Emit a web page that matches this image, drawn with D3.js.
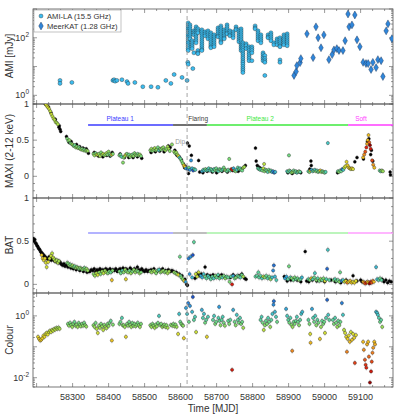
<!DOCTYPE html>
<html><head><meta charset="utf-8">
<script src="https://cdn.jsdelivr.net/npm/d3@7"></script>
<style>body{margin:0;background:#fff}svg{display:block;font-family:"Liberation Sans",Arial,sans-serif}</style>
</head><body><svg id="c" width="399" height="419"></svg>
<script>
// ---------------- DATA ----------------
const xTickLabels = [58300,58400,58500,58600,58700,58800,58900,59000,59100];
const dipMJD = 58618;
const phaseNames = ["Plateau 1","Flaring","Plateau 2","Soft"];
const phaseStart = [58343,58579,58673,59065];
const phaseEnd   = [58579,58673,59065,59190];
const phaseLabelMJD = [58432,58621,58821,59101];

// AMI-LA 15.5 GHz (mJy)
const amiSparse = [[58265,3.3],[58265,2.6],[58298,2.8],[58412,3.3],[58415,3.5],[58418,3.1],[58423,3.3],[58437,3.5],
 [58451,3.0],[58454,2.6],[58473,2.8],[58495,2.0],[58518,2.0],[58537,1.9],[58559,3.3],[58573,2.6],[58582,5.3],
 [58604,4.2],[58618,3.3],[58620,14],[58621,12],[58634,8.5]];
const amiClusters = [
 [58621,[329,281,240,204,174,149,127,108,92,79,67,57,49,42,36]],
 [58626,[281,240,204,174,149,127,108,92]],
 [58632,[79,67,57,49,42]],
 [58637,[174,149,127,30]],
 [58643,[240,204,174,149,127,108,92,79,67]],
 [58648,[204,174,149,36,30,28]],
 [58659,[189,161,137,117,100,85,73,62,53,45,39,36]],
 [58668,[161,137,117]],
 [58676,[174,149,127,108,92]],
 [58684,[149,127,108,92,79,67,57,49,45]],
 [58693,[127,108,92,79,67,57,49]],
 [58704,[221,189,161,137,117,108]],
 [58712,[259,221,189,161,137,117,100,85,73,67]],
 [58721,[189,161,137,117,100,92]],
 [58729,[281,240,204,174,149,137]],
 [58737,[174,149,127,117]],
 [58746,[161,137,117,100]],
 [58754,[240,204,189]],
 [58762,[189,161,137,117,100,85,73]],
 [58768,[204,174,149,127,108,92,79,67,57,49,42,36]],
 [58773,[67,57,49,42,36,30,26,22,19,16,14,12,10,8.5,7.3,6.2]],
 [58782,[62,53,42]],
 [58790,[49,42,36,30,26,22,19,16]],
 [58798,[49,42,36,30,16]],
 [58807,[259,221,204]],
 [58815,[174,149,127,108,92,79]],
 [58823,[127,108,92,79,67]],
 [58829,[30,26,22,19,16]],
 [58834,[24,19,16,14,4.9]],
 [58843,[127,108,100]],
 [58851,[149,127,108,92,79]],
 [58859,[67,57]],
 [58868,[92,79,67,57]],
 [58876,[100,85,73,62,53,49,17,14]],
 [58887,[127,108,92,79,67,57]],
 [58896,[137,117,100,85,73,62,53]]
];
// MeerKAT 1.28 GHz (mJy)
const meerkat = [[58915,4.9],[58921,6.7],[58923,10.8],[58932,13.7],[58934,18.9],[58951,137],[58968,20.4],[58976,240],
 [58982,100],[58990,45],[58998,126],[59012,17.4],[59021,26],[59026,38],[59034,42],[59040,36],[59051,36],[59057,79],
 [59065,670],[59068,240],[59076,280],[59084,620],[59090,85],[59098,49],[59107,14],[59115,12.7],[59121,12.7],
 [59129,7.9],[59134,14],[59143,9.2],[59148,17.4],[59157,16],[59162,4.5],[59171,174],[59176,304],[59187,93]];

// Hardness colour
const colourPts = [
 [58204,0.21],[58207,0.18],[58210,0.16],[58213,0.17],[58216,0.19],[58219,0.23],[58222,0.21],[58225,0.26],[58228,0.28],[58231,0.25],
 [58234,0.3],[58237,0.33],[58240,0.3],[58243,0.35],[58246,0.33],[58249,0.38],[58252,0.36],[58255,0.41],[58258,0.38],[58261,0.42],[58264,0.38],
 [58287,0.55],[58290,0.48],[58293,0.6],[58296,0.51],[58299,0.44],[58302,0.55],[58305,0.64],[58308,0.48],[58311,0.52],[58314,0.44],
 [58317,0.59],[58320,0.51],[58323,0.46],[58326,0.55],[58329,0.48],[58332,0.6],[58335,0.5],[58338,0.45],
 [58358,0.5],[58361,0.44],[58364,0.59],[58367,0.38],[58370,0.28],[58373,0.48],[58376,0.41],[58379,0.55],[58382,0.46],[58385,0.35],
 [58388,0.51],[58391,0.44],[58394,0.4],[58397,0.55],[58400,0.47],[58403,0.6],[58406,0.69],[58409,0.16],[58412,0.52],
 [58430,0.55],[58433,0.64],[58437,0.86],[58439,0.5],[58442,0.5],[58445,0.44],[58448,0.21],[58451,0.55],[58454,0.48],[58457,0.64],
 [58460,0.51],[58463,0.44],[58466,0.59],[58469,0.48],[58472,0.55],[58475,0.46],[58478,0.52],[58481,0.6],[58484,0.5],[58487,0.44],[58490,0.55],
 [58516,0.5],[58519,0.44],[58522,0.55],[58525,0.48],[58528,0.41],[58531,0.52],[58534,0.46],[58537,0.59],[58540,1.0],[58543,0.51],
 [58546,0.55],[58549,0.44],[58552,0.48],[58555,0.52],[58558,0.44],[58561,0.5],[58564,0.41],
 [58573,0.51],[58577,0.48],[58580,0.55],[58583,0.46],[58586,0.52],[58589,0.44],[58593,0.26],[58596,1.16],[58599,0.64],[58602,0.55],
 [58605,0.5],[58607,0.48],[58609,0.19],
 [58615,1.81],[58618,1.16],[58621,2.6],[58623,0.64],[58626,2.1],[58632,1.35],[58634,4.1],[58637,0.74],[58640,0.93],[58643,0.3],
 [58659,1.56],[58662,0.86],[58665,1.16],[58668,0.6],[58671,0.74],[58673,0.21],[58676,0.93],
 [58690,0.74],[58693,1.0],[58696,0.55],[58699,0.64],[58707,1.95],[58705,0.86],[58708,0.69],[58711,0.5],[58714,0.74],[58717,0.93],[58720,0.6],[58723,0.48],
 [58732,0.69],[58735,0.55],[58738,0.74],[58743,0.018],[58746,1.56],[58750,0.64],[58753,0.5],[58756,1.08],[58759,0.74],[58762,0.6],
 [58765,0.86],[58768,0.55],[58771,0.64],[58774,0.41],
 [58822,0.74],[58825,0.93],[58828,0.6],[58831,0.35],[58834,0.5],[58837,0.69],[58840,0.55],[58843,0.86],[58846,0.64],[58849,0.44],
 [58852,0.74],[58855,1.16],[58858,2.3],[58859,3.0],[58862,1.35],[58865,0.93],[58868,0.64],
 [58893,1.68],[58896,1.0],[58899,0.74],[58902,0.6],[58905,0.86],[58908,0.51],[58910,0.074],[58911,0.44],[58914,0.64],[58917,0.55],
 [58920,0.69],[58923,0.93],[58926,0.64],[58929,0.5],[58932,0.74],[58935,1.16],[58938,1.35],
 [58955,0.74],[58958,0.55],[58960,0.26],[58961,0.135],[58965,1.68],[58968,0.86],[58971,0.64],[58974,1.0],[58977,0.5],[58980,0.74],
 [58983,0.6],[58987,0.18],[58990,0.44],[58993,0.69],[58996,0.55],[58999,0.64],[59001,0.28],[59004,0.86],[59007,3.3],[59010,1.08],[59013,0.74],
 [59023,0.74],[59026,0.55],[59029,0.86],[59032,0.6],[59035,0.44],[59038,0.69],[59041,0.5],[59044,0.64],[59048,2.6],[59051,1.08],
 [59054,0.35],[59057,0.28],[59060,0.21],[59062,0.069],[59064,0.18],[59067,0.23],[59070,0.145],[59073,0.3],[59076,0.168],[59079,0.26],
 [59082,0.195],[59084,0.03],[59087,0.24],
 [59107,0.145],[59109,0.08],[59112,0.038],[59114,0.026],[59116,0.021],[59118,0.12],[59121,0.145],[59123,0.048],[59126,0.007],
 [59129,0.016],[59131,0.033],[59133,0.064],[59135,0.093],[59138,0.145],[59140,0.12],[59143,1.35],[59146,1.25],[59148,1.08],
 [59151,0.86],[59154,0.64],[59157,0.74],[59160,0.44]];

// MAXI 2-12 keV (with colour / without colour)
const maxiCol = [
 [58226,0.99],[58229,0.97],[58232,0.95],[58235,0.93],[58238,0.9],[58241,0.86],[58244,0.83],[58247,0.8],[58250,0.78],[58253,0.75],[58256,0.74],[58259,0.72],
 [58285,0.52],[58288,0.49],[58291,0.5],[58294,0.46],[58297,0.45],[58300,0.44],[58303,0.42],[58306,0.43],[58309,0.4],[58312,0.41],
 [58315,0.39],[58318,0.4],[58321,0.38],[58324,0.37],[58327,0.38],[58330,0.36],[58333,0.37],[58336,0.35],[58339,0.36],[58342,0.35],
 [58358,0.31],[58361,0.29],[58364,0.32],[58367,0.3],[58370,0.3],[58373,0.31],[58376,0.28],[58379,0.33],[58382,0.3],[58385,0.31],
 [58388,0.29],[58391,0.3],[58394,0.32],[58397,0.3],[58400,0.34],[58403,0.31],[58406,0.29],[58409,0.3],[58412,0.31],
 [58430,0.29],[58433,0.3],[58436,0.27],[58440,0.19],[58442,0.26],[58445,0.28],[58448,0.3],[58451,0.31],[58454,0.29],[58457,0.3],
 [58460,0.27],[58463,0.29],[58466,0.3],[58469,0.28],[58472,0.32],[58475,0.3],[58478,0.29],[58481,0.31],[58484,0.29],[58487,0.3],[58490,0.28],
 [58516,0.36],[58519,0.38],[58522,0.35],[58525,0.37],[58528,0.39],[58531,0.36],[58534,0.37],[58537,0.4],[58540,0.36],[58543,0.38],
 [58546,0.37],[58549,0.39],[58552,0.4],[58555,0.37],[58558,0.36],[58561,0.38],[58564,0.41],[58567,0.38],[58570,0.35],[58576,0.44],
 [58582,0.34],[58585,0.32],[58588,0.33],[58591,0.3],[58594,0.28],[58597,0.26],[58600,0.24],[58603,0.21],[58606,0.18],[58609,0.15],[58612,0.13],[58615,0.11],
 [58620,0.1],[58623,0.12],[58626,0.09],[58629,0.22],[58632,0.11],[58635,0.08],[58638,0.1],[58641,0.09],
 [58660,0.07],[58663,0.09],[58666,0.08],[58669,0.1],[58672,0.08],[58675,0.09],[58678,0.11],[58681,0.08],[58684,0.1],[58687,0.09],
 [58690,0.07],[58693,0.1],[58696,0.09],[58699,0.11],[58702,0.08],[58705,0.07],[58708,0.1],[58711,0.09],[58714,0.08],[58717,0.1],
 [58720,0.12],[58723,0.09],[58726,0.08],[58729,0.07],[58732,0.09],[58735,0.24],[58738,0.08],[58741,0.1],[58744,0.09],[58747,0.11],
 [58750,0.08],[58753,0.07],[58756,0.09],[58759,0.12],[58762,0.1],[58765,0.11],[58768,0.09],[58771,0.08],[58774,0.12],[58777,0.13],
 [58815,0.11],[58818,0.1],[58821,0.09],[58824,0.1],[58827,0.08],[58830,0.11],[58832,0.17],[58833,0.07],[58836,0.09],[58839,0.08],
 [58842,0.06],[58845,0.09],[58848,0.07],[58851,0.08],[58854,0.06],[58857,0.07],[58860,0.05],[58863,0.06],
 [58896,0.07],[58899,0.06],[58901,0.29],[58902,0.08],[58905,0.07],[58908,0.05],[58911,0.06],[58914,0.08],[58917,0.06],[58920,0.07],
 [58923,0.05],[58926,0.06],[58929,0.07],[58932,0.06],
 [58955,0.07],[58958,0.06],[58961,0.08],[58964,0.09],[58967,0.07],[58970,0.08],[58973,0.09],[58976,0.07],[58979,0.08],[58982,0.06],
 [58985,0.07],[58988,0.08],[58991,0.06],[58994,0.07],[58997,0.06],[59000,0.05],[59003,0.06],[59009,0.46],
 [59037,0.07],[59040,0.06],[59043,0.08],[59046,0.07],[59049,0.1],[59052,0.09],[59055,0.12],[59058,0.14],[59061,0.2],[59064,0.15],
 [59067,0.12],[59070,0.11],[59073,0.1],[59076,0.11],[59079,0.1],
 [59107,0.26],[59110,0.3],[59113,0.34],[59116,0.4],[59118,0.45],[59120,0.5],[59122,0.57],[59124,0.47],[59126,0.43],[59128,0.38],
 [59132,0.22],[59135,0.16],[59138,0.12],[59153,0.08],[59156,0.07],[59159,0.08],[59162,0.07]];
const maxiNoCol = [
 [58224,1.0],[58233,0.96],[58240,0.88],[58252,0.79],[58262,0.68],[58263,0.7],[58265,0.65],[58267,0.62],
 [58283,0.55],[58290,0.47],[58296,0.48],[58302,0.43],[58311,0.44],[58320,0.41],[58329,0.39],[58338,0.38],[58344,0.32],
 [58360,0.33],[58372,0.28],[58384,0.27],[58395,0.29],[58404,0.28],[58410,0.33],
 [58432,0.31],[58444,0.26],[58456,0.26],[58468,0.26],[58480,0.27],[58492,0.25],
 [58518,0.33],[58530,0.34],[58542,0.35],[58554,0.34],[58566,0.42],[58571,0.4],
 [58584,0.36],[58590,0.29],[58596,0.27],[58602,0.23],[58608,0.17],[58611,0.12],[58614,0.14],
 [58619,0.46],[58622,0.04],[58624,0.42],[58630,0.29],[58650,0.22],[58653,0.06],
 [58662,0.05],[58674,0.07],[58688,0.06],[58700,0.05],[58715,0.07],[58730,0.06],[58745,0.08],[58760,0.07],[58770,0.1],[58780,0.15],
 [58808,0.39],[58810,0.21],[58813,0.15],[58816,0.13],[58819,0.12],[58822,0.11],
 [58898,0.05],[58910,0.04],[58922,0.06],[58934,0.05],
 [58959,0.1],[58962,0.21],[58963,0.15],
 [59036,0.05],[59084,0.2],[59090,0.26],
 [59108,0.24],[59119,0.48],[59123,0.52],[59128,0.3],[59130,0.36],[59134,0.21],[59182,0.06],[59183,0.02]];

// Swift/BAT (with colour / without colour)
const batCol = [
 [58214,0.34],[58217,0.3],[58220,0.28],[58223,0.3],[58226,0.25],[58228,0.2],[58232,0.26],[58236,0.3],[58240,0.33],[58243,0.36],
 [58246,0.31],[58249,0.29],[58252,0.27],[58256,0.28],[58259,0.25],[58262,0.27],
 [58285,0.25],[58288,0.24],[58291,0.22],[58294,0.23],[58297,0.21],[58300,0.22],[58303,0.2],[58306,0.21],[58309,0.19],[58312,0.2],
 [58315,0.19],[58318,0.18],[58321,0.19],[58324,0.18],[58327,0.17],[58330,0.18],[58333,0.19],[58336,0.17],[58339,0.18],[58342,0.16],
 [58358,0.12],[58362,0.1],[58366,0.13],[58370,0.11],[58374,0.14],[58378,0.12],[58382,0.15],[58386,0.13],[58390,0.16],[58394,0.14],
 [58398,0.13],[58402,0.15],[58406,0.14],[58409,0.05],[58411,0.16],
 [58430,0.15],[58434,0.13],[58438,0.16],[58442,0.14],[58446,0.17],[58448,0.06],[58450,0.15],[58454,0.14],[58458,0.16],[58462,0.13],
 [58466,0.15],[58470,0.17],[58474,0.14],[58478,0.16],[58482,0.15],[58486,0.13],[58490,0.14],
 [58516,0.15],[58520,0.14],[58524,0.16],[58528,0.15],[58532,0.13],[58536,0.16],[58540,0.17],[58544,0.14],[58548,0.15],[58552,0.16],
 [58556,0.14],[58560,0.15],[58564,0.13],[58568,0.15],
 [58582,0.14],[58586,0.13],[58590,0.12],[58594,0.11],[58598,0.32],[58600,0.1],[58602,0.08],[58606,0.06],[58610,0.04],[58614,0.03],
 [58622,0.3],[58625,0.12],[58628,0.32],[58632,0.08],[58634,0.34],[58637,0.49],[58642,0.12],[58646,0.09],[58650,0.14],
 [58656,0.1],[58660,0.08],[58664,0.12],[58668,0.09],[58672,0.07],[58676,0.1],[58680,0.08],[58684,0.06],[58688,0.09],[58692,0.07],
 [58696,0.1],[58700,0.08],[58704,0.11],[58708,0.07],[58712,0.09],[58716,0.08],[58720,0.1],[58724,0.07],[58728,0.09],[58732,0.08],
 [58736,0.03],[58740,0.09],[58743,0.0],[58746,0.1],[58750,0.07],[58754,0.08],[58758,0.1],[58762,0.09],[58766,0.08],[58770,0.11],[58774,0.09],
 [58808,0.09],[58812,0.1],[58816,0.14],[58818,0.08],[58822,0.1],[58826,0.07],[58830,0.09],[58834,0.08],[58838,0.1],[58842,0.07],
 [58846,0.09],[58850,0.06],[58854,0.08],[58857,0.16],[58859,0.22],[58862,0.09],[58866,0.05],
 [58890,0.07],[58894,0.09],[58898,0.06],[58901,0.21],[58905,0.08],[58909,0.07],[58913,0.05],[58917,0.08],[58921,0.06],[58925,0.07],
 [58929,0.05],[58933,0.06],[58937,0.08],
 [58955,0.06],[58959,0.05],[58963,0.07],[58967,0.06],[58971,0.08],[58973,0.13],[58977,0.05],[58981,0.07],[58985,0.04],[58989,0.06],
 [58993,0.05],[58997,0.07],[59001,0.04],[59005,0.06],[59007,0.18],[59009,0.4],[59013,0.05],
 [59025,0.05],[59029,0.06],[59033,0.04],[59037,0.05],[59041,0.03],[59043,0.14],[59047,0.04],[59051,0.05],[59055,0.03],[59059,0.04],
 [59063,0.02],[59067,0.03],[59071,0.04],[59075,0.02],[59079,0.03],[59083,0.02],[59087,0.04],
 [59107,0.03],[59110,0.02],[59113,0.01],[59116,0.02],[59119,0.03],[59122,0.02],[59125,0.01],[59128,0.03],[59131,0.02],[59134,0.04],
 [59137,0.03],[59143,0.2],[59146,0.06],[59150,0.05],[59154,0.07],[59158,0.05]];
const batNoCol = [
 [58191,0.53],[58193,0.5],[58195,0.52],[58197,0.48],[58199,0.47],[58201,0.45],[58203,0.44],[58205,0.42],[58207,0.41],[58209,0.4],
 [58211,0.38],[58213,0.37],[58215,0.36],[58217,0.35],[58219,0.34],[58221,0.33],[58223,0.32],[58226,0.31],[58229,0.3],[58232,0.29],
 [58235,0.32],[58238,0.3],[58241,0.28],[58244,0.3],[58247,0.29],[58250,0.27],[58253,0.28],[58256,0.26],[58259,0.27],[58262,0.25],
 [58265,0.26],[58268,0.24],[58270,0.23],[58273,0.22],[58276,0.24],[58279,0.21],[58282,0.22],[58287,0.2],[58295,0.19],[58302,0.18],
 [58310,0.17],[58320,0.16],[58330,0.15],[58340,0.14],[58345,0.15],
 [58348,0.15],[58352,0.17],[58356,0.16],[58360,0.18],[58364,0.15],[58368,0.17],[58372,0.16],[58376,0.18],[58380,0.16],[58384,0.17],
 [58388,0.15],[58392,0.18],[58396,0.17],[58400,0.16],[58404,0.18],[58408,0.15],[58412,0.17],[58416,0.16],[58420,0.18],[58424,0.15],
 [58428,0.17],[58432,0.18],[58436,0.15],[58440,0.19],[58444,0.16],[58448,0.18],[58452,0.17],[58456,0.15],[58460,0.19],[58464,0.17],
 [58468,0.16],[58472,0.18],[58476,0.16],[58480,0.2],[58484,0.17],[58488,0.16],[58492,0.18],[58496,0.16],[58500,0.15],[58504,0.17],
 [58508,0.15],[58512,0.16],[58518,0.17],[58526,0.18],[58534,0.15],[58542,0.17],[58550,0.18],[58558,0.16],[58566,0.17],[58572,0.15],
 [58576,0.16],[58580,0.15],[58588,0.14],[58596,0.12],[58604,0.1],[58612,0.06],[58617,0.0],[58619,-0.01],
 [58640,0.07],[58648,0.13],[58652,0.1],
 [58658,0.12],[58668,0.2],[58674,0.11],[58682,0.1],[58690,0.11],[58698,0.09],[58706,0.1],[58714,0.11],[58722,0.09],[58738,0.08],
 [58746,0.11],[58754,0.09],[58762,0.1],[58770,0.12],[58778,0.07],[58782,0.06],
 [58888,0.09],[58896,0.04],[58906,0.05],[58915,0.06],[58924,0.05],[58934,0.03],[58946,0.38],[58950,0.04],[58956,0.03],[58966,0.05],
 [58978,0.04],[58990,0.05],[59000,0.03],[59018,0.05],[59030,0.03],[59045,0.02],[59060,0.05],[59079,0.1],[59090,0.04],
 [59100,0.05],[59104,0.03],[59160,0.06],[59165,0.03],[59170,0.05],[59175,0.02],[59180,0.04],[59185,0.03]];

const maxiErr = 0.03, batErr = 0.035, colourErrDex = 0.09;

// ---------------- LAYOUT / STYLE ----------------
const L = 33, R = 393;
const P = {ami:[9,104], maxi:[104,198], bat:[198,293], col:[293,387]};
const phaseColor = ["#3b3bff","#404040","#3ee83e","#ff3cff"];
const phaseLight = ["#9a9aff","#a8a8a8","#a6f2a6","#ff9eff"];
const axisCol = "#555", textCol = "#333";

const svg = d3.select("#c");
svg.append("rect").attr("width",399).attr("height",419).attr("fill","#fff");

const x = d3.scaleLinear().domain([58190,59190]).range([L,R]);
const yAmi = d3.scaleLog().domain([0.5,1000]).range([P.ami[1],P.ami[0]]);
const yMaxi = d3.scaleLinear().domain([-0.3,1]).range([P.maxi[1],P.maxi[0]]);
const yBat = d3.scaleLinear().domain([-0.1,1]).range([P.bat[1],P.bat[0]]);
const yCol = d3.scaleLog().domain([0.005,5.5]).range([P.col[1],P.col[0]]);

const cScale = d3.scaleLog()
  .domain([0.007,0.02,0.06,0.15,0.25,0.35,0.5,0.75,1.1,2,4])
  .range(["#9a0000","#e02010","#f07a20","#f0c020","#e0e030","#bce23e","#86de6a","#5cd6a0","#44c8c8","#2f9ae0","#1f55c8"])
  .clamp(true);
const colSorted = colourPts.slice().sort((a,b)=>a[0]-b[0]);
function hueAt(m){
  let best = colSorted[0], bd = Infinity;
  for (const d of colSorted){ const dd = Math.abs(d[0]-m); if (dd < bd){ bd = dd; best = d; } }
  return cScale(best[1]);
}

const defs = svg.append("defs");
Object.entries(P).forEach(([k,[a,b]])=>{
  defs.append("clipPath").attr("id","clip-"+k).append("rect").attr("x",L).attr("y",a).attr("width",R-L).attr("height",b-a);
});

// ---------------- FRAMES & TICKS ----------------
const xMajor = d3.range(58200,59191,100);
const xMinor = d3.range(0,31).map(k=>58200+k*100/3).filter(v=>v<=59190 && k3(v));
function k3(v){ const r=(v-58200)%100; return r>1 && r<99; }
function logMinor(lo,hi){ const out=[]; for(let e=Math.floor(Math.log10(lo));e<=Math.ceil(Math.log10(hi));e++){ for(let m=2;m<=9;m++){ const v=m*Math.pow(10,e); if(v>=lo&&v<=hi) out.push(v);} } return out; }

function frame(key, yS, yMaj, yMin){
  const [t,b] = P[key];
  const g = svg.append("g");
  const tick = (x1,y1,x2,y2)=>g.append("line").attr("x1",x1).attr("y1",y1).attr("x2",x2).attr("y2",y2).attr("stroke",axisCol).attr("stroke-width",0.6);
  xMajor.forEach(v=>{ tick(x(v),b,x(v),b-4); tick(x(v),t,x(v),t+4); });
  xMinor.forEach(v=>{ tick(x(v),b,x(v),b-2); tick(x(v),t,x(v),t+2); });
  yMaj.forEach(v=>{ const yy=yS(v); if(yy>=t-0.5&&yy<=b+0.5){ tick(L,yy,L+4,yy); tick(R,yy,R-4,yy);} });
  yMin.forEach(v=>{ const yy=yS(v); if(yy>=t-0.5&&yy<=b+0.5){ tick(L,yy,L+2,yy); tick(R,yy,R-2,yy);} });
  g.append("rect").attr("x",L).attr("y",t).attr("width",R-L).attr("height",b-t).attr("fill","none").attr("stroke",axisCol).attr("stroke-width",0.8);
}
frame("ami", yAmi, [1,10,100,1000], logMinor(0.5,1000));
frame("maxi", yMaxi, [0,0.5,1], [-0.2,-0.1,0.1,0.2,0.3,0.4,0.6,0.7,0.8,0.9]);
frame("bat", yBat, [0,0.5,1], [-0.05,0.1,0.2,0.3,0.4,0.6,0.7,0.8,0.9]);
frame("col", yCol, [0.01,0.1,1], logMinor(0.005,5.5));

function ylab(yy, base, sup){
  const t = svg.append("text").attr("x",29).attr("y",yy+3).attr("text-anchor","end").attr("font-size",9).attr("fill",textCol);
  t.append("tspan").text(base);
  if (sup!==undefined) t.append("tspan").attr("dy",-4).attr("font-size",6.5).text(sup);
}
ylab(yAmi(100),"10","2"); ylab(yAmi(1),"10","0");
ylab(yMaxi(1),"1"); ylab(yMaxi(0.5),"0.5"); ylab(yMaxi(0),"0");
ylab(yBat(1),"1"); ylab(yBat(0.5),"0.5"); ylab(yBat(0),"0");
ylab(yCol(1),"10","0"); ylab(yCol(0.01),"10","-2");

xTickLabels.forEach(v=>svg.append("text").attr("x",x(v)).attr("y",400).attr("text-anchor","middle").attr("font-size",9).attr("fill",textCol).text(v));
svg.append("text").attr("x",213).attr("y",412).attr("text-anchor","middle").attr("font-size",10).attr("fill",textCol).text("Time [MJD]");

function ytitle(cy, txt){ svg.append("text").attr("transform",`translate(13,${cy}) rotate(-90)`).attr("text-anchor","middle").attr("font-size",10).attr("fill",textCol).text(txt); }
ytitle(56,"AMI [mJy]"); ytitle(151,"MAXI (2-12 keV)"); ytitle(245,"BAT"); ytitle(340,"Colour");

// ---------------- PHASE BARS ----------------
const yPhaseMaxi = 125, yPhaseBat = 233;
phaseNames.forEach((n,i)=>{
  svg.append("line").attr("x1",x(phaseStart[i])).attr("x2",x(phaseEnd[i])).attr("y1",yPhaseMaxi).attr("y2",yPhaseMaxi).attr("stroke",phaseColor[i]).attr("stroke-width",1.3);
  svg.append("line").attr("x1",x(phaseStart[i])).attr("x2",x(phaseEnd[i])).attr("y1",yPhaseBat).attr("y2",yPhaseBat).attr("stroke",phaseLight[i]).attr("stroke-width",1.3);
  svg.append("text").attr("x",x(phaseLabelMJD[i])).attr("y",yPhaseMaxi-4).attr("text-anchor", i===1?"start":"middle")
    .attr("font-size",6.5).attr("fill",phaseColor[i]).text(n);
});
svg.append("text").attr("x",x(dipMJD)-2).attr("y",144).attr("text-anchor","end").attr("font-size",6.5).attr("fill","#999").text("Dip");

// ---------------- DATA MARKS ----------------
function errBars(g, pts, yS, lo, hi){
  g.selectAll(null).data(pts).join("line")
    .attr("x1",d=>x(d[0])).attr("x2",d=>x(d[0])).attr("y1",d=>yS(lo(d))).attr("y2",d=>yS(hi(d)))
    .attr("stroke","#b4b4b4").attr("stroke-width",0.7);
}
function dots(g, pts, yS, fill, r){
  g.selectAll(null).data(pts).join("circle")
    .attr("cx",d=>x(d[0])).attr("cy",d=>yS(d[1])).attr("r",r)
    .attr("fill",fill).attr("stroke","#1a1a1a").attr("stroke-width",0.35);
}
const gM = svg.append("g").attr("clip-path","url(#clip-maxi)");
errBars(gM, maxiNoCol.concat(maxiCol), yMaxi, d=>d[1]-maxiErr, d=>d[1]+maxiErr);
dots(gM, maxiNoCol, yMaxi, "#000", 1.5);
dots(gM, maxiCol, yMaxi, d=>hueAt(d[0]), 1.6);
const gB = svg.append("g").attr("clip-path","url(#clip-bat)");
errBars(gB, batNoCol.concat(batCol), yBat, d=>d[1]-batErr, d=>d[1]+batErr);
dots(gB, batNoCol, yBat, "#000", 1.5);
dots(gB, batCol, yBat, d=>hueAt(d[0]), 1.6);
const gC = svg.append("g").attr("clip-path","url(#clip-col)");
errBars(gC, colourPts, yCol, d=>d[1]*Math.pow(10,-colourErrDex), d=>d[1]*Math.pow(10,colourErrDex));
gC.selectAll(null).data(colourPts).join("line")
  .attr("x1",d=>x(d[0])-1.6).attr("x2",d=>x(d[0])+1.6).attr("y1",d=>yCol(d[1])).attr("y2",d=>yCol(d[1]))
  .attr("stroke","#b4b4b4").attr("stroke-width",0.6);
dots(gC, colourPts, yCol, d=>cScale(d[1]), 1.6);
const amiPts = amiSparse.concat(amiClusters.flatMap(([m,vals])=>vals.map(v=>[m,v])));
const gA = svg.append("g").attr("clip-path","url(#clip-ami)");
dots(gA, amiPts, yAmi, "#3cbcef", 2.0);
const diamond = d3.symbol().type(d3.symbolDiamond).size(18);
gA.selectAll(null).data(meerkat).join("path")
  .attr("transform",d=>`translate(${x(d[0])},${yAmi(d[1])})`).attr("d",diamond)
  .attr("fill","#2f86da").attr("stroke","#1a2a4a").attr("stroke-width",0.4);

svg.append("line").attr("x1",x(dipMJD)).attr("x2",x(dipMJD)).attr("y1",P.ami[0]).attr("y2",P.col[1])
  .attr("stroke","#9a9a9a").attr("stroke-width",0.9).attr("stroke-dasharray","4,3");

// ---------------- LEGEND ----------------
const lg = svg.append("g");
lg.append("rect").attr("x",34).attr("y",10).attr("width",87).attr("height",22).attr("fill","#fff").attr("stroke","#999").attr("stroke-width",0.6);
lg.append("circle").attr("cx",41).attr("cy",16).attr("r",2.0).attr("fill","#3cbcef").attr("stroke","#1a1a1a").attr("stroke-width",0.35);
lg.append("text").attr("x",47).attr("y",18.8).attr("font-size",7.6).attr("fill",textCol).text("AMI-LA (15.5 GHz)");
lg.append("path").attr("transform","translate(41,26)").attr("d",diamond).attr("fill","#2f86da").attr("stroke","#1a2a4a").attr("stroke-width",0.4);
lg.append("text").attr("x",47).attr("y",28.8).attr("font-size",7.6).attr("fill",textCol).text("MeerKAT (1.28 GHz)");
</script></body></html>
